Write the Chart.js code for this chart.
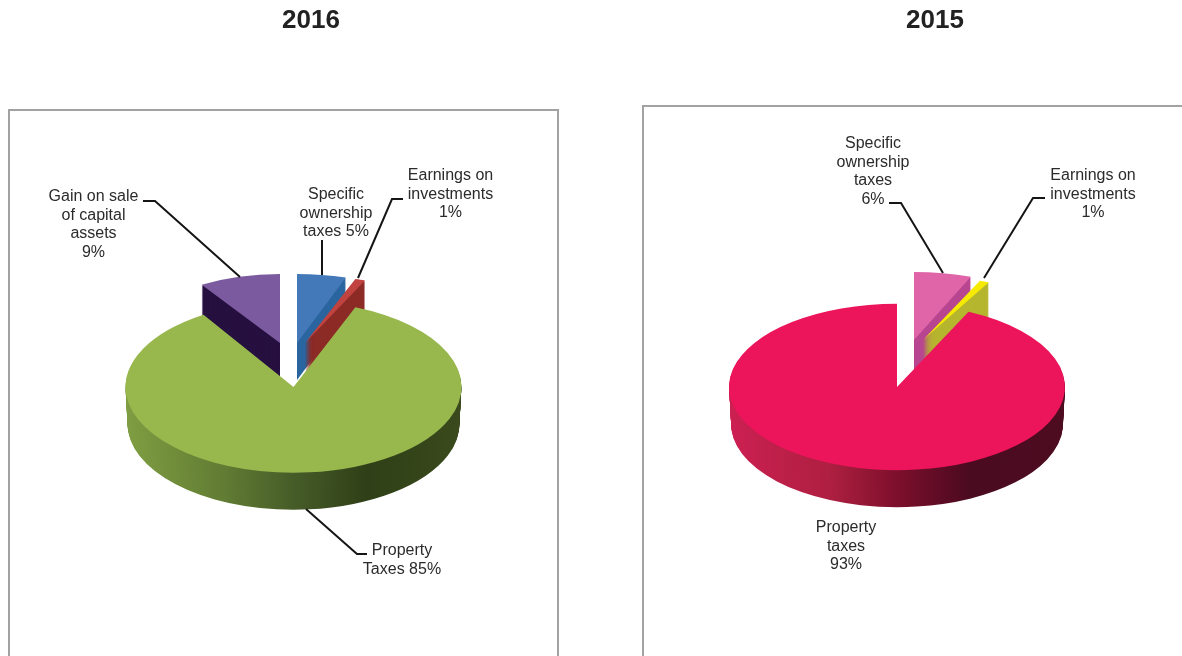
<!DOCTYPE html>
<html>
<head>
<meta charset="utf-8">
<title>Revenue by source</title>
<script src="https://cdn.jsdelivr.net/npm/chart.js@4/dist/chart.umd.min.js"></script>
<style>
  html, body { margin: 0; padding: 0; background: #fff; overflow: hidden; }
  #page { position: relative; width: 1182px; height: 656px; overflow: hidden; }
  .panel { position: absolute; box-sizing: border-box; border: 2px solid #a2a2a2; background: #fff; }
  #panel2016 { left: 8px; top: 109px; width: 551px; height: 600px; }
  #panel2015 { left: 642px; top: 105px; width: 600px; height: 600px; }
  canvas { position: absolute; top: 0; }
  #chart2016 { left: 0; }
  #chart2015 { left: 688px; }
</style>
</head>
<body>
<div id="page">
  <div class="panel" id="panel2016"></div>
  <div class="panel" id="panel2015"></div>
  <canvas id="chart2016" width="622" height="656"></canvas>
  <canvas id="chart2015" width="494" height="656"></canvas>
</div>
<script>
// values, in percent
var categories2016 = ["Specific ownership taxes", "Earnings on investments", "Property Taxes", "Gain on sale of capital assets"];
var values2016 = [5, 1, 85, 9];
var categories2015 = ["Specific ownership taxes", "Earnings on investments", "Property taxes"];
var values2015 = [6, 1, 93];

var FONT = '"Liberation Sans", Arial, sans-serif';
var RADIUS = 168;
var DEPTH = 37;
var RIM_TAPER = 0.012; // bottom of the pie is a bit narrower than the top

// how each slice sits in the fake 3D view: shift and squash of the flat pie
var setup2016 = {
  title: "2016",
  center: { x: 293.5, y: 387 },
  main: 2,
  poses: [
    { dx: 3.5, dy: -44, sx: 0.94, sy: 0.41 },
    { dx: 11.5, dy: -44, sx: 0.97, sy: 0.40 },
    { dx: 0, dy: 0, sx: 1, sy: 0.51 },
    { dx: -13.5, dy: -44, sx: 0.87, sy: 0.41 }
  ],
  tops: ["#4379B8", "#C0433F", "#98B84E", "#7B5A9F"],
  sides: ["#2A659F", "#8C2A26", null, "#26103F"],
  rim: ["#7F9E42", "#607B33", "#465C28", "#2F3F17", "#3A4A1C"],
  labels: [
    { x: 93.5, y: 197, lines: ["Gain on sale", "of capital", "assets", "9%"] },
    { x: 336, y: 195, lines: ["Specific", "ownership", "taxes 5%"] },
    { x: 450.5, y: 176, lines: ["Earnings on", "investments", "1%"] },
    { x: 402, y: 551, lines: ["Property", "Taxes 85%"] }
  ],
  leaders: [
    [[143, 201], [155, 201], [240, 277]],
    [[322, 240], [322, 275]],
    [[403, 199], [392, 199], [358, 278]],
    [[306, 509], [357, 554], [367, 554]]
  ]
};

var setup2015 = {
  title: "2015",
  center: { x: 897 - 688, y: 387 },
  main: 2,
  poses: [
    { dx: 17, dy: -47, sx: 0.92, sy: 0.405 },
    { dx: 26, dy: -47, sx: 0.92, sy: 0.38 },
    { dx: 0, dy: 0, sx: 1, sy: 0.495 }
  ],
  tops: ["#DF65A8", "#F5EA00", "#EC145B"],
  sides: ["#B8458F", "#B6B52E", null],
  rim: ["#CC2052", "#AE1F40", "#7D0F2C", "#4A0A20", "#4D0C20"],
  labels: [
    { x: 873 - 688, y: 144, lines: ["Specific", "ownership", "taxes", "6%"] },
    { x: 1093 - 688, y: 176, lines: ["Earnings on", "investments", "1%"] },
    { x: 846 - 688, y: 528, lines: ["Property", "taxes", "93%"] }
  ],
  leaders: [
    [[889 - 688, 203], [901 - 688, 203], [943 - 688, 273]],
    [[1045 - 688, 198], [1033 - 688, 198], [984 - 688, 278]]
  ]
};

function paintArc(ctx, arc, setup, pose, fill, down, taper) {
  var saved = arc.options;
  ctx.save();
  ctx.translate(setup.center.x + pose.dx, setup.center.y + pose.dy + down);
  ctx.scale(pose.sx * (taper || 1), pose.sy);
  ctx.translate(-arc.x, -arc.y);
  arc.options = Object.assign({}, saved, { backgroundColor: fill, borderWidth: 0 });
  arc.draw(ctx);
  arc.options = saved;
  ctx.restore();
}

function paintLabels(ctx, setup) {
  ctx.save();
  ctx.strokeStyle = "#151515";
  ctx.lineWidth = 2;
  setup.leaders.forEach(function(pts) {
    ctx.beginPath();
    pts.forEach(function(p, i) {
      if (i === 0) ctx.moveTo(p[0], p[1]);
      else ctx.lineTo(p[0], p[1]);
    });
    ctx.stroke();
  });
  ctx.fillStyle = "#2b2b2b";
  ctx.font = "16px " + FONT;
  ctx.textAlign = "center";
  ctx.textBaseline = "middle";
  setup.labels.forEach(function(label) {
    label.lines.forEach(function(line, i) {
      ctx.fillText(line, label.x, label.y + i * 18.4);
    });
  });
  ctx.restore();
}

// replaces the normal dataset drawing: flat arcs get squashed and extruded
var fake3d = {
  id: "fake3d",
  beforeDatasetsDraw: function(chart, args, opts) {
    var ctx = chart.ctx;
    var setup = opts.setup;
    var arcs = chart.getDatasetMeta(0).data;
    var main = arcs[setup.main];

    var rim = ctx.createLinearGradient(main.x - RADIUS, 0, main.x + RADIUS, 0);
    var stops = [0, 0.3, 0.5, 0.72, 1];
    setup.rim.forEach(function(c, i) { rim.addColorStop(stops[i], c); });

    var k;
    for (k = DEPTH; k > 0; k--) {
      paintArc(ctx, main, setup, setup.poses[setup.main], rim, k, 1 - RIM_TAPER * k / DEPTH);
    }
    arcs.forEach(function(arc, i) {
      if (i === setup.main) return;
      for (k = DEPTH; k > 0; k--) {
        paintArc(ctx, arc, setup, setup.poses[i], setup.sides[i], k);
      }
      paintArc(ctx, arc, setup, setup.poses[i], setup.tops[i], 0);
    });
    paintArc(ctx, main, setup, setup.poses[setup.main], setup.tops[setup.main], 0);

    paintLabels(ctx, setup);
    return false;
  }
};

function makeChart(id, categories, values, setup) {
  return new Chart(document.getElementById(id).getContext("2d"), {
    type: "pie",
    data: {
      labels: categories,
      datasets: [{ data: values, backgroundColor: setup.tops, borderWidth: 0 }]
    },
    plugins: [fake3d],
    options: {
      responsive: false,
      animation: false,
      radius: RADIUS,
      plugins: {
        legend: { display: false },
        tooltip: { enabled: false },
        title: {
          display: true,
          text: setup.title,
          color: "#222222",
          font: { family: FONT, size: 26, weight: "bold" },
          padding: { top: 5, bottom: 0 }
        },
        fake3d: { setup: setup }
      }
    }
  });
}

makeChart("chart2016", categories2016, values2016, setup2016);
makeChart("chart2015", categories2015, values2015, setup2015);
</script>
</body>
</html>
